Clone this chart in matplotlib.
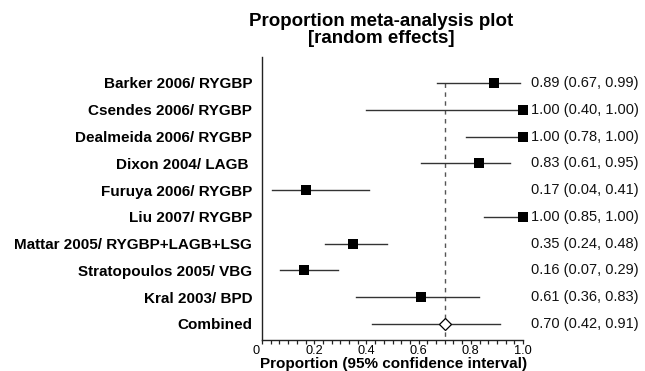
import matplotlib
matplotlib.use("Agg")
import matplotlib.pyplot as plt
import matplotlib.transforms as mtransforms
from matplotlib.ticker import MultipleLocator

studies = ["Barker 2006/ RYGBP", "Csendes 2006/ RYGBP", "Dealmeida 2006/ RYGBP",
           "Dixon 2004/ LAGB ", "Furuya 2006/ RYGBP", "Liu 2007/ RYGBP",
           "Mattar 2005/ RYGBP+LAGB+LSG", "Stratopoulos 2005/ VBG", "Kral 2003/ BPD"]
est = [0.89, 1.00, 1.00, 0.83, 0.17, 1.00, 0.35, 0.16, 0.61]
lo = [0.67, 0.40, 0.78, 0.61, 0.04, 0.85, 0.24, 0.07, 0.36]
hi = [0.99, 1.00, 1.00, 0.95, 0.41, 1.00, 0.48, 0.29, 0.83]
comb_label = "Combined"
comb_est, comb_lo, comb_hi = 0.70, 0.42, 0.91
xticks = [0, 0.2, 0.4, 0.6, 0.8, 1.0]
xticklabels = ["0", "0.2", "0.4", "0.6", "0.8", "1.0"]

plt.rcParams['font.family'] = ['Liberation Sans', 'DejaVu Sans']

fig = plt.figure(figsize=(6.45, 3.71), dpi=100)
ax = fig.add_axes([262/645, 31/371, 261/645, 283/371])

n = len(studies)
ys = list(range(n))
for y, e, l, h in zip(ys, est, lo, hi):
    ax.plot([l, h], [y, y], color='#333333', lw=1.0, zorder=2, clip_on=False)
    ax.plot([e], [y], marker='s', ms=7.4, color='black', mew=0, zorder=3, clip_on=False)
ax.plot([comb_lo, comb_hi], [n, n], color='#333333', lw=1.0, zorder=2, clip_on=False)
ax.plot([comb_est], [n], marker='D', ms=6.2, mfc='white', mec='black', mew=0.9, zorder=3,
        clip_on=False)

ax.set_xlim(0, 1.0)
ax.set_ylim(n + 0.6, -0.97)
ax.vlines(comb_est, 0, n + 0.6, colors='#555555', linestyles=(0, (3.2, 3.2)), lw=1.0, zorder=1)

labels = studies + [comb_label]
ax.set_yticks(ys + [n])
ax.set_yticklabels(labels, fontsize=11, fontweight='bold')
ax.tick_params(axis='y', length=0, pad=7)

ax.set_xticks(xticks)
ax.set_xticklabels(xticklabels, fontsize=9.2)
ax.xaxis.set_minor_locator(MultipleLocator(0.2 / 6))
ax.tick_params(axis='x', which='both', direction='out', length=3.2, width=0.9, pad=0.5,
               color='#222222')

# shift "0" label leftwards
lab0 = ax.get_xticklabels()[0]
lab0.set_transform(lab0.get_transform() + mtransforms.ScaledTranslation(-6/100, 0, fig.dpi_scale_trans))

for s in ['top', 'right']:
    ax.spines[s].set_visible(False)
for s in ['left', 'bottom']:
    ax.spines[s].set_linewidth(1.0)
    ax.spines[s].set_color('#222222')

trans = mtransforms.blended_transform_factory(ax.transAxes, ax.transData)
vals_text = [f"{e:.2f} ({l:.2f}, {h:.2f})" for e, l, h in zip(est, lo, hi)]
vals_text.append(f"{comb_est:.2f} ({comb_lo:.2f}, {comb_hi:.2f})")
for y, t in zip(ys + [n], vals_text):
    ax.text(1.03, y, t, transform=trans, ha='left', va='center', fontsize=10.5,
            color='#111111', clip_on=False)

fig.text(381/645, 1 - 30/371, "Proportion meta-analysis plot\n[random effects]",
         ha='center', va='center', fontsize=13.5, fontweight='bold', linespacing=1.0)
fig.text(394/645, 1 - 367.8/371, "Proportion (95% confidence interval)",
         ha='center', va='baseline', fontsize=11, fontweight='bold')

fig.savefig("out.png", dpi=100)
